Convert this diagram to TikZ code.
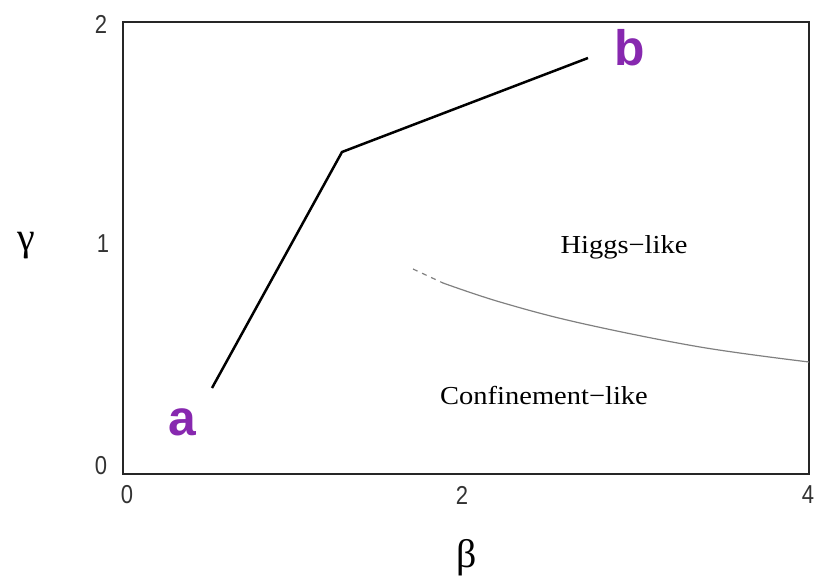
\documentclass[tikz,border=0pt]{standalone}
\usepackage{fontspec}
\setmainfont{Liberation Serif}
\newfontfamily\ticksf{Liberation Sans}
\definecolor{labpurple}{RGB}{135,40,175}
\begin{document}
\begin{tikzpicture}[x=1bp,y=-1bp,
  frame/.style={draw=black!85,line width=2bp},
  pathline/.style={draw=black,line width=2.5bp},
  boundary/.style={draw=black!50,line width=1.2bp},
  tick/.style={font=\ticksf\fontsize{26}{26}\selectfont,text=black!80,inner sep=0,xscale=0.85},
  axlab/.style={font=\fontsize{40}{40}\selectfont,inner sep=0},
  region/.style={font=\fontsize{26}{26}\selectfont,inner sep=0,xscale=1.1},
  pointlab/.style={font=\ticksf\bfseries\fontsize{50}{50}\selectfont,text=labpurple,inner sep=0}]
\useasboundingbox (0,0) rectangle (817,581);
\draw[frame] (123,22) rectangle (809,474);
% ticks
\node[tick] (y2) at (101,24) {2};
\node[tick] (y1) at (103,244) {1};
\node[tick] (y0) at (101,466) {0};
\node[tick] (x0) at (127,495) {0};
\node[tick] (x2) at (462,495) {2};
\node[tick] (x4) at (808,495) {4};
\node[axlab] (gam) at (26,246) {γ};
\node[axlab] (bet) at (467,558) {β};
\node[region] (higgs) at (624,247) {Higgs−like};
\node[region] (conf) at (544,396) {Confinement−like};
% path a-b
\coordinate (pa) at (212,388);
\coordinate (pk) at (342,152);
\coordinate (pb) at (588,58);
\draw[pathline] (pa) -- (pk) -- (pb);
\node[pointlab] (a) at (182,422) {a};
\node[pointlab] (b) at (630,48) {b};
% boundary
\coordinate (c0) at (413,269);
\coordinate (c1) at (443,283);
\draw[boundary,dash pattern=on 5bp off 5bp] (c0) -- (c1);
\draw[boundary] plot[smooth,tension=0.6] coordinates {(443,283) (500,302) (580,323) (700,347) (809,362)};
\end{tikzpicture}
\end{document}
